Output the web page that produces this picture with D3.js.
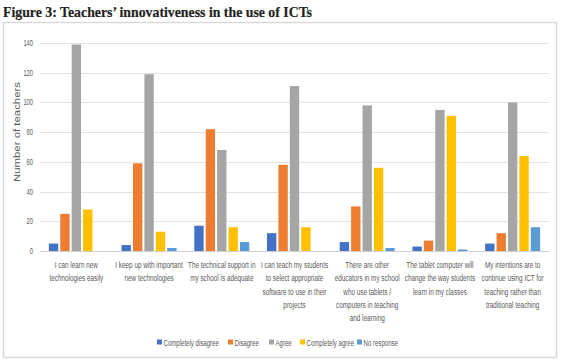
<!DOCTYPE html>
<html>
<head>
<meta charset="utf-8">
<script src="https://cdn.jsdelivr.net/npm/d3@7"></script>
<style>
  body { margin: 0; background: #fff; }
  svg { display: block; }
</style>
</head>
<body>
<svg width="565" height="361"></svg>
<script>
// data
var categories = [
    ['I can learn new', 'technologies easily'],
    ['I keep up with important', 'new technologies'],
    ['The technical support in', 'my school is adequate'],
    ['I can teach my students', 'to select appropriate', 'software to use in their', 'projects'],
    ['There are other', 'educators in my school', 'who use tablets /', 'computers in teaching', 'and learning'],
    ['The tablet computer will', 'change the way students', 'learn in my classes'],
    ['My intentions are to', 'continue using ICT for', 'teaching rather than', 'traditional teaching']
];
var seriesNames = ['Completely disagree', 'Disagree', 'Agree', 'Completely agree', 'No response'];
var completelyDisagree = [5, 4, 17, 12, 6, 3, 5];
var disagree = [25, 59, 82, 58, 30, 7, 12];
var agree = [139, 119, 68, 111, 98, 95, 100];
var completelyAgree = [28, 13, 16, 16, 56, 91, 64];
var noResponse = [0, 2, 6, 0, 2, 1, 16];
var yTicks = [0, 20, 40, 60, 80, 100, 120, 140];

var colors = ['#4472C4', '#ED7D31', '#A5A5A5', '#FFC000', '#5B9BD5'];
var allSeries = [completelyDisagree, disagree, agree, completelyAgree, noResponse];

var svg = d3.select('svg');
var narrow = 'Liberation Sans, Arial, sans-serif';
var squeeze = 0.64;

// title
svg.append('text')
    .attr('x', 3)
    .attr('y', 17)
    .attr('font-family', 'Liberation Serif, Times New Roman, serif')
    .attr('font-weight', 'bold')
    .attr('font-size', 15)
    .attr('fill', '#231f20')
    .attr('stroke', '#231f20')
    .attr('stroke-width', 0.2)
    .attr('textLength', 309)
    .attr('lengthAdjust', 'spacingAndGlyphs')
    .text('Figure 3: Teachers\u2019 innovativeness in the use of ICTs');

// chart frame
svg.append('rect')
    .attr('x', 3.5).attr('y', 22.5)
    .attr('width', 553).attr('height', 335)
    .attr('fill', 'none')
    .attr('stroke', '#d9d9d9')
    .attr('stroke-width', 1.5);

var plotLeft = 40, plotRight = 549, plotTop = 43, plotBottom = 251;

var x0 = d3.scaleBand().domain(d3.range(categories.length)).range([plotLeft, plotRight]);
var x1 = d3.scaleBand().domain(d3.range(seriesNames.length)).range([0, 55]).paddingInner(0.18);
var y = d3.scaleLinear().domain([0, 140]).range([plotBottom, plotTop]);

// gridlines
svg.append('g')
    .selectAll('line')
    .data(yTicks)
    .enter()
    .append('line')
    .attr('x1', plotLeft).attr('x2', plotRight)
    .attr('y1', function(d){ return Math.round(y(d)) + 0.5; })
    .attr('y2', function(d){ return Math.round(y(d)) + 0.5; })
    .attr('stroke', function(d){ return d == 0 ? '#d0d0d0' : '#e3e3e3'; })
    .attr('stroke-width', 1);

// y tick labels
svg.append('g')
    .selectAll('text')
    .data(yTicks)
    .enter()
    .append('text')
    .attr('transform', function(d){ return 'translate(33,' + (y(d) + 3) + ') scale(' + squeeze + ',1)'; })
    .attr('text-anchor', 'end')
    .attr('font-family', narrow)
    .attr('font-size', 9)
    .attr('fill', '#595959')
    .text(function(d){ return d; });

// y axis title
svg.append('text')
    .attr('transform', 'translate(20,132) rotate(-90)')
    .attr('text-anchor', 'middle')
    .attr('font-family', narrow)
    .attr('font-size', 9)
    .attr('fill', '#595959')
    .attr('textLength', 100)
    .attr('lengthAdjust', 'spacingAndGlyphs')
    .text('Number of teachers');

// bars
var groups = svg.append('g')
    .selectAll('g')
    .data(categories)
    .enter()
    .append('g')
    .attr('transform', function(d, i){
        return 'translate(' + (x0(i) + x0.bandwidth() / 2 - 27.5) + ',0)';
    });

groups.selectAll('rect')
    .data(function(d, i){
        return allSeries.map(function(s, k){ return {k: k, v: s[i]}; });
    })
    .enter()
    .append('rect')
    .attr('x', function(d){ return x1(d.k); })
    .attr('y', function(d){ return y(d.v); })
    .attr('width', x1.bandwidth())
    .attr('height', function(d){ return plotBottom - y(d.v); })
    .attr('fill', function(d){ return colors[d.k]; });

// category labels
groups.each(function(lines, i){
    var g = d3.select(this);
    lines.forEach(function(line, j){
        g.append('text')
            .attr('transform', 'translate(27.5,' + (268 + j * 13.3) + ') scale(0.67,1)')
            .attr('text-anchor', 'middle')
            .attr('font-family', narrow)
            .attr('font-size', 9.5)
            .attr('fill', '#595959')
            .text(line);
    });
});

// legend
var legendX = [157, 228, 269, 300, 357];
var legend = svg.append('g')
    .selectAll('g')
    .data(seriesNames)
    .enter()
    .append('g')
    .attr('transform', function(d, i){ return 'translate(' + legendX[i] + ',338)'; });

legend.append('rect')
    .attr('width', 5).attr('height', 5)
    .attr('y', 1.5)
    .attr('fill', function(d, i){ return colors[i]; });

legend.append('text')
    .attr('transform', 'translate(6.5,8) scale(' + squeeze + ',1)')
    .attr('font-family', narrow)
    .attr('font-size', 9.5)
    .attr('fill', '#595959')
    .text(function(d){ return d; });
</script>
</body>
</html>
